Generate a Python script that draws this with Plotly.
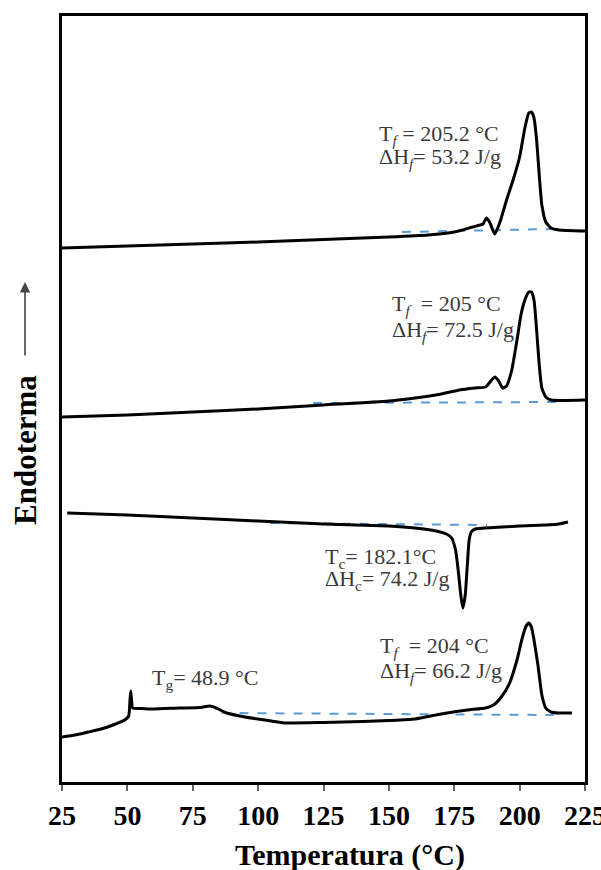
import plotly.graph_objects as go

# ---------------- data (heat flow in arbitrary units) ----------------
# Curve A: top (second heating, Tf = 205.2 °C)
tA = [25, 50, 75, 100, 125, 150, 165, 175, 182, 186, 187.3, 188.5, 190.5, 192.5, 195, 197.5,
      200, 202, 203.5, 204.5, 205.5, 206.5, 207.5, 208.5, 210, 212, 215, 225]
hA = [534, 536, 538, 540, 542.5, 545, 547, 550, 555, 558, 564, 560, 548, 560, 582, 602,
      625, 654, 669, 670, 664, 642, 607, 577, 560, 554, 552, 551]

# Curve B: (Tf = 205 °C)
tB = [25, 50, 75, 100, 125, 150, 160, 170, 177, 183, 187, 189, 190.5, 192, 193.5, 195, 197,
      199, 200.5, 202, 203.5, 204.5, 205.5, 206.5, 207.5, 208.5, 210, 212, 225]
hB = [365, 367, 370, 373, 377, 381, 384, 388, 392, 394, 395, 401, 405, 401, 394, 396, 412,
      442, 467, 482, 490, 490, 482, 452, 417, 394, 385, 382, 382]

# Curve C: cooling (Tc = 182.1 °C)
tC = [27, 50, 75, 100, 125, 150, 160, 168, 172, 174, 175.5, 176.5, 177.5, 178.3, 179.2, 180,
      180.7, 181.5, 183, 190, 200, 210, 215, 218.5]
hC = [269, 267, 264, 261, 258, 256, 254, 251, 248, 244, 232, 212, 187, 174, 187, 217,
      242, 250, 253, 254.5, 256, 257, 258, 260]

# Curve D: bottom (first heating, Tg = 48.9 °C, Tf = 204 °C)
tD = [25, 30, 35, 40, 45, 49, 50.5, 51, 51.3, 51.6, 52, 55, 60, 70, 78, 81.5, 84, 88, 95, 105,
      110, 125, 140, 150, 160, 170, 180, 187, 190, 193, 196, 199, 201, 202.5, 203.5, 204.5,
      205.5, 207, 208.5, 210, 212, 215, 220]
hD = [45, 47, 50, 53, 57.5, 62, 66, 82, 91, 82, 74, 73.5, 73, 74, 74.5, 76, 74, 69, 65, 61,
      59, 59.5, 60.5, 61.5, 63, 68, 72, 74, 77, 85, 98, 122, 144, 156, 159, 155,
      142, 117, 87, 74, 70, 69, 69]

# Integration baselines (dashed)
baseA_t, baseA_h = [155, 213], [550, 553]
baseB_t, baseB_h = [121, 215], [379, 380]
baseC_t, baseC_h = [104.5, 187.5], [259, 257]
baseD_t, baseD_h = [86, 213], [69, 67]

x_ticks = [25, 50, 75, 100, 125, 150, 175, 200, 225]

# ---------------- figure ----------------
W, H = 601, 870
L, R, T, B = 62, 16, 16, 88

fig = go.Figure()
for t, h in [(baseA_t, baseA_h), (baseB_t, baseB_h), (baseC_t, baseC_h), (baseD_t, baseD_h)]:
    fig.add_trace(go.Scatter(x=t, y=h, mode="lines",
                             line=dict(color="#5B9BD5", width=2, dash="dash"),
                             hoverinfo="skip"))
for t, h in [(tA, hA), (tB, hB), (tC, hC), (tD, hD)]:
    fig.add_trace(go.Scatter(x=t, y=h, mode="lines",
                             line=dict(color="black", width=3, shape="spline", smoothing=0.5),
                             hoverinfo="skip"))

serif = "Liberation Serif, Times New Roman, serif"
txt_col = "#3a3a3a"
notes = [
    (145.5, 647, "T<sub><i>f</i></sub> = 205.2 °C"),
    (145.5, 624, "ΔH<sub><i>f</i></sub>= 53.2 J/g"),
    (150.4, 477, "T<sub><i>f</i></sub>  = 205 °C"),
    (150.4, 451, "ΔH<sub><i>f</i></sub>= 72.5 J/g"),
    (124.8, 224, "T<sub>c</sub>= 182.1°C"),
    (124.8, 202, "ΔH<sub>c</sub>= 74.2 J/g"),
    (145.8, 135, "T<sub><i>f</i></sub>  = 204 °C"),
    (145.8, 110, "ΔH<sub><i>f</i></sub>= 66.2 J/g"),
    (58.7, 103, "T<sub>g</sub>= 48.9 °C"),
]
for x, y, s in notes:
    fig.add_annotation(x=x, y=y, text=s, showarrow=False, xanchor="left", yanchor="middle",
                       font=dict(family=serif, size=22, color=txt_col))

pw = W - L - R
ph = H - T - B
# Y-axis title arrow and label
fig.add_annotation(xref="paper", yref="paper",
                   x=(25 - L) / pw, y=(H - B - 282) / ph,
                   ax=0, ay=75, axref="pixel", ayref="pixel",
                   text="", showarrow=True, arrowhead=2, arrowsize=1.3, arrowwidth=1.6,
                   arrowcolor="#444")
fig.add_annotation(xref="paper", yref="paper",
                   x=(25 - L) / pw, y=(H - B - 450) / ph,
                   text="Endoterma", textangle=-90, showarrow=False,
                   xanchor="center", yanchor="middle",
                   font=dict(family=serif, size=31, color="black", weight="bold"))
# X-axis title
fig.add_annotation(xref="paper", yref="paper",
                   x=(350 - L) / pw, y=(H - B - 855) / ph,
                   text="Temperatura (°C)", showarrow=False,
                   xanchor="center", yanchor="middle",
                   font=dict(family=serif, size=30, color="black", weight="bold"))

fig.update_layout(
    width=W, height=H, margin=dict(l=L, r=R, t=T, b=B, autoexpand=False),
    paper_bgcolor="white", plot_bgcolor="white", showlegend=False,
    xaxis=dict(range=[25, 225], tickvals=x_ticks, ticktext=[str(v) for v in x_ticks],
               ticks="outside", ticklen=6, tickwidth=1.5, tickcolor="#666",
               ticklabeloverflow="allow", automargin=False,
               showline=True, linecolor="black", linewidth=3, mirror=True,
               showgrid=False, zeroline=False,
               tickfont=dict(family=serif, size=28, color="black", weight="bold")),
    yaxis=dict(range=[0, 766], showticklabels=False, ticks="", showgrid=False,
               automargin=False,
               zeroline=False, showline=True, linecolor="black", linewidth=3, mirror=True),
)

fig.write_html("out.html")
